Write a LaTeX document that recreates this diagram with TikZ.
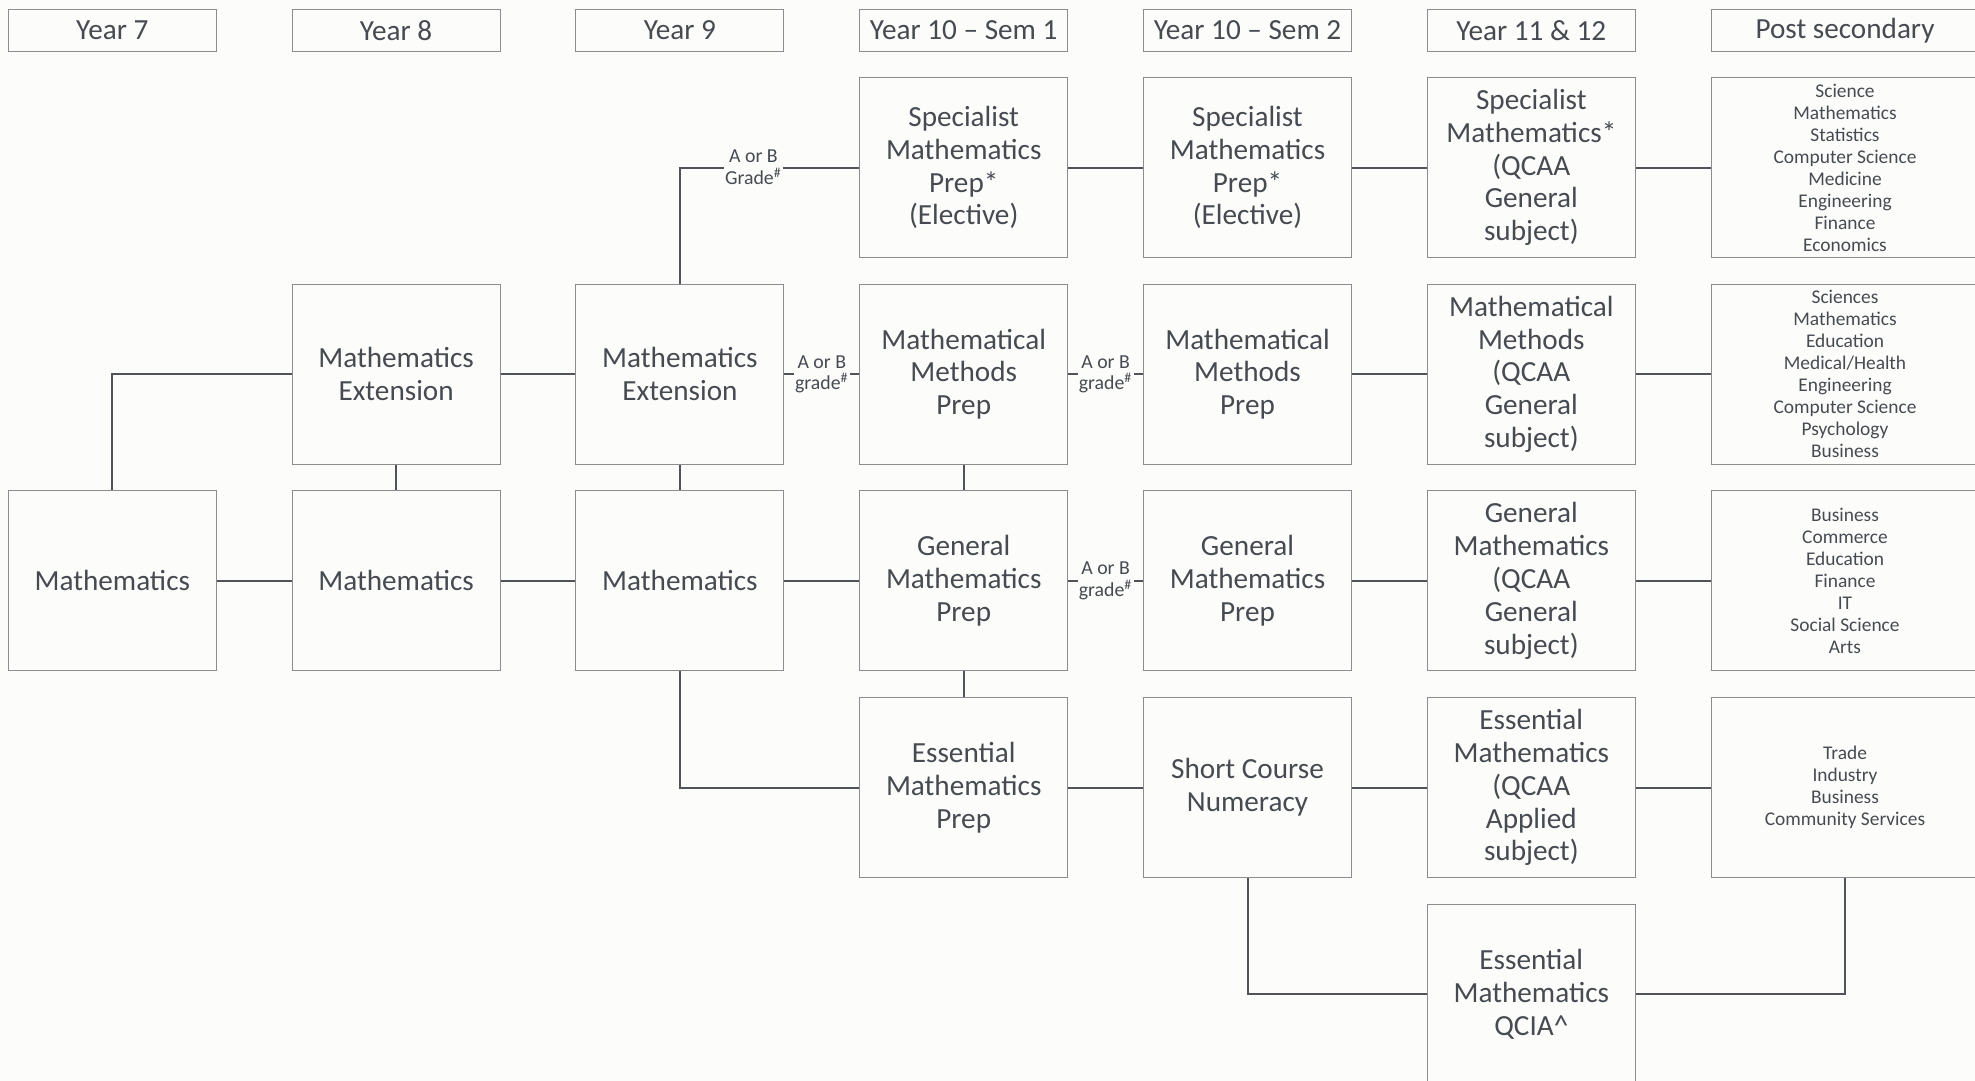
\documentclass[tikz,border=0pt]{standalone}
\usepackage{fontspec}
\setmainfont{Carlito}
\definecolor{boxgray}{HTML}{8C8C90}
\definecolor{linegray}{HTML}{505459}
\definecolor{textgray}{HTML}{464B52}
\definecolor{paper}{HTML}{FCFCFA}

\begin{document}
\begin{tikzpicture}[x=0.5pt, y=-0.5pt,
  year/.style={draw=boxgray, line width=0.5pt, text=textgray, minimum width=104pt, minimum height=21pt, inner sep=0pt, font=\fontsize{14.6}{16.4}\selectfont},
  course/.style={draw=boxgray, line width=0.5pt, text=textgray, minimum width=104pt, minimum height=90pt, inner sep=0pt, align=center, font=\fontsize{14.6}{16.4}\selectfont},
  career/.style={course, minimum width=134pt, font=\fontsize{9.7}{11}\selectfont},
  link/.style={draw=linegray, line width=1pt},
  grade/.style={fill=paper, text=textgray, inner sep=0.6pt, align=center, font=\fontsize{9.9}{10.8}\selectfont}]
\useasboundingbox (0,0) rectangle (1975,1081);
\fill[paper] (0,0) rectangle (1975,1081);
\clip (0,0) rectangle (1975,1081);

\node[year] (hy7) at (112.3,30.4) {Year 7};
\node[year] (hy8) at (396.1,30.4) {Year 8};
\node[year] (hy9) at (679.9,30.4) {Year 9};
\node[year] (hs1) at (963.7,30.4) {Year 10 – Sem 1};
\node[year] (hs2) at (1247.5,30.4) {Year 10 – Sem 2};
\node[year] (hy11) at (1531.3,30.4) {Year 11 \& 12};
\node[year, minimum width=134pt] (hpost) at (1845,30.4) {Post secondary};

\node[course] (y7m) at (112.3,580.9) {Mathematics};
\node[course] (y8e) at (396.1,374.2) {Mathematics\\Extension};
\node[course] (y8m) at (396.1,580.9) {Mathematics};
\node[course] (y9e) at (679.9,374.2) {Mathematics\\Extension};
\node[course] (y9m) at (679.9,580.9) {Mathematics};

\node[course] (s1spec) at (963.7,167.5) {Specialist\\Mathematics\\Prep*\\(Elective)};
\node[course] (s1meth) at (963.7,374.2) {Mathematical\\Methods\\Prep};
\node[course] (s1gen) at (963.7,580.9) {General\\Mathematics\\Prep};
\node[course] (s1ess) at (963.7,787.6) {Essential\\Mathematics\\Prep};

\node[course] (s2spec) at (1247.5,167.5) {Specialist\\Mathematics\\Prep*\\(Elective)};
\node[course] (s2meth) at (1247.5,374.2) {Mathematical\\Methods\\Prep};
\node[course] (s2gen) at (1247.5,580.9) {General\\Mathematics\\Prep};
\node[course] (s2short) at (1247.5,787.6) {Short Course\\Numeracy};

\node[course] (y11spec) at (1531.3,167.5) {Specialist\\Mathematics*\\(QCAA\\General\\subject)};
\node[course] (y11meth) at (1531.3,374.2) {Mathematical\\Methods\\(QCAA\\General\\subject)};
\node[course] (y11gen) at (1531.3,580.9) {General\\Mathematics\\(QCAA\\General\\subject)};
\node[course] (y11ess) at (1531.3,787.6) {Essential\\Mathematics\\(QCAA\\Applied\\subject)};
\node[course] (y11qcia) at (1531.3,994.3) {Essential\\Mathematics\\QCIA\textasciicircum};

\node[career] (postspec) at (1845,167.5) {Science\\Mathematics\\Statistics\\Computer Science\\Medicine\\Engineering\\Finance\\Economics};
\node[career] (postmeth) at (1845,374.2) {Sciences\\Mathematics\\Education\\Medical/Health\\Engineering\\Computer Science\\Psychology\\Business};
\node[career] (postgen) at (1845,580.9) {Business\\Commerce\\Education\\Finance\\IT\\Social Science\\Arts};
\node[career] (postess) at (1845,787.6) {Trade\\Industry\\Business\\Community Services};

\draw[link] (y7m.north) |- (y8e.west);
\draw[link] (y7m) -- (y8m);
\draw[link] (y8e) -- (y9e);
\draw[link] (y8e) -- (y8m);
\draw[link] (y8m) -- (y9m);
\draw[link] (y9e) -- (y9m);
\draw[link] (y9e.north) |- node[grade, pos=0.705] {A or B\\Grade\textsuperscript{\#}} (s1spec.west);
\draw[link] (y9e) -- node[grade] {A or B\\grade\textsuperscript{\#}} (s1meth);
\draw[link] (y9m) -- (s1gen);
\draw[link] (y9m.south) |- (s1ess.west);
\draw[link] (s1meth) -- (s1gen);
\draw[link] (s1gen) -- (s1ess);

\draw[link] (s1spec) -- (s2spec);
\draw[link] (s1meth) -- node[grade] {A or B\\grade\textsuperscript{\#}} (s2meth);
\draw[link] (s1gen) -- node[grade] {A or B\\grade\textsuperscript{\#}} (s2gen);
\draw[link] (s1ess) -- (s2short);

\draw[link] (s2spec) -- (y11spec);
\draw[link] (s2meth) -- (y11meth);
\draw[link] (s2gen) -- (y11gen);
\draw[link] (s2short) -- (y11ess);
\draw[link] (s2short.south) |- (y11qcia.west);

\draw[link] (y11spec) -- (postspec);
\draw[link] (y11meth) -- (postmeth);
\draw[link] (y11gen) -- (postgen);
\draw[link] (y11ess) -- (postess);
\draw[link] (y11qcia.east) -| (postess.south);
\end{tikzpicture}
\end{document}
